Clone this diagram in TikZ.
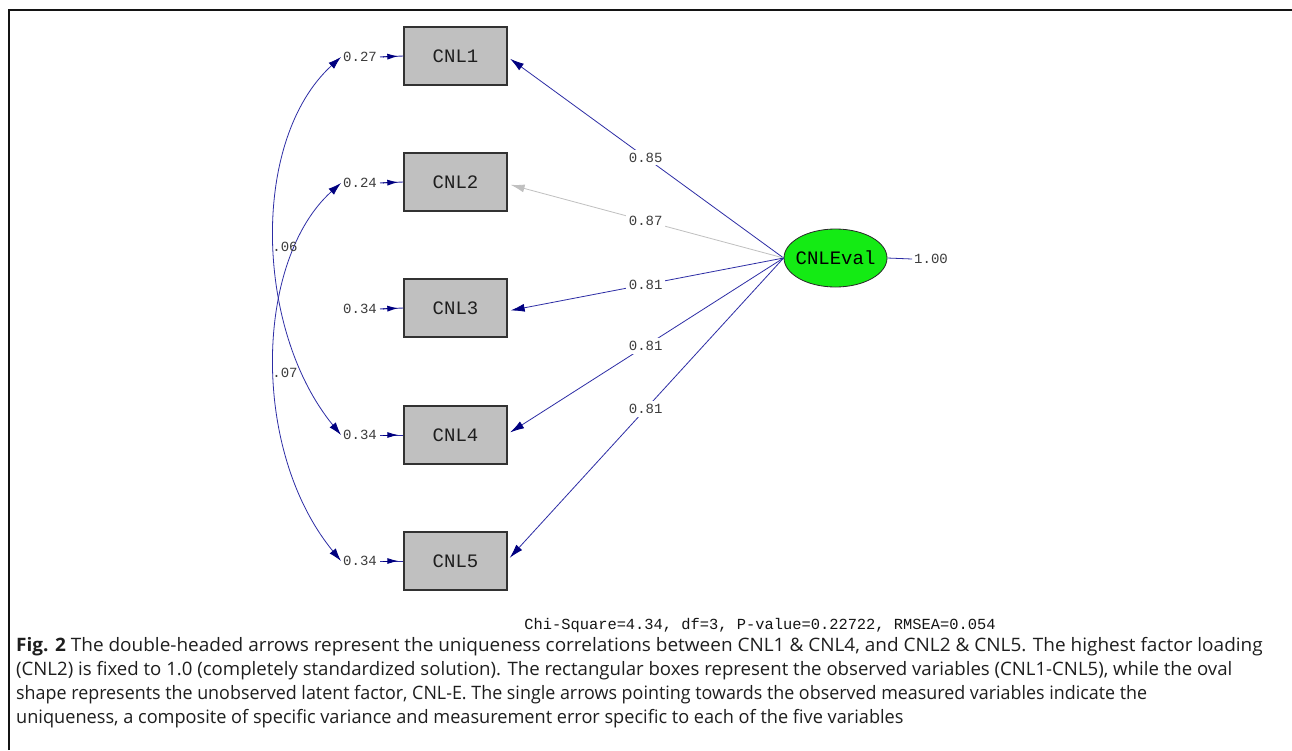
\documentclass[tikz,border=0pt]{standalone}
\usepackage{fontspec}
\setmainfont{Liberation Mono}
\newfontfamily\capfont{Open Sans}
\usetikzlibrary{shapes.geometric,arrows.meta,calc}
\definecolor{navyline}{RGB}{45,45,165}
\definecolor{navytip}{RGB}{0,0,128}
\definecolor{boxgray}{RGB}{192,192,192}
\definecolor{txtgray}{RGB}{60,60,60}
\definecolor{framecol}{RGB}{20,20,20}
\definecolor{boxline}{RGB}{50,50,50}
\definecolor{boxtext}{RGB}{30,30,30}
\definecolor{ellline}{RGB}{40,40,40}
\definecolor{ellfill}{RGB}{20,235,20}
\begin{document}
\begin{tikzpicture}[x=1pt,y=-1pt,
  obsbox/.style={draw=boxline,line width=1.4pt,fill=boxgray,minimum width=103pt,minimum height=58pt,inner sep=0pt,font=\fontsize{19}{22}\selectfont,text=boxtext},
  latent/.style={ellipse,draw=ellline,line width=0.8pt,fill=ellfill,minimum width=103pt,minimum height=58pt,inner sep=0pt},
  lattext/.style={inner sep=0pt,font=\fontsize{19}{22}\selectfont,text=black},
  val/.style={font=\fontsize{14}{16}\selectfont,text=txtgray,inner sep=2pt},
  lab/.style={val,fill=white,inner sep=3pt},
  load/.style={navyline,line width=0.8pt,-{Latex[length=14pt,width=8pt,color=navytip]},shorten >=3pt},
  loadgray/.style={boxgray,line width=0.8pt,-{Latex[length=14pt,width=8pt]},shorten >=3pt},
  errline/.style={navyline,line width=0.9pt,shorten <=1pt},
  errtip/.style={navytip,line width=0.9pt,-{Latex[length=11pt,width=6pt,color=navytip]},shorten <=4pt,shorten >=5pt},
  corr/.style={navyline,line width=0.8pt,{Latex[length=13pt,width=8pt,color=navytip]}-{Latex[length=13pt,width=8pt,color=navytip]}},
  capline/.style={anchor=base west,inner sep=0pt,font=\capfont\fontsize{18.5}{21}\selectfont,text=boxtext}
]
\useasboundingbox (0,0) rectangle (1292,750);
\fill[white] (0,0) rectangle (1292,750);
\draw[line width=2pt,framecol] (9,750) -- (9,10) -- (1292,10);

% observed variables
\node[obsbox] (b1) at (455.5,56) {CNL1};
\node[obsbox] (b2) at (455.5,182) {CNL2};
\node[obsbox] (b3) at (455.5,308) {CNL3};
\node[obsbox] (b4) at (455.5,435) {CNL4};
\node[obsbox] (b5) at (455.5,561) {CNL5};

% latent
\node[latent] (E) at (835.5,258) {};
\node[lattext] (Et) at (E.center) {CNLEval};
\node[val,anchor=west] (ev) at (912,259) {1.00};
\draw[navyline,line width=0.8pt] (E.east) -- (ev.west);

% error variances
\node[val] (e1) at (360,57) {0.27};
\node[val] (e2) at (360,183) {0.24};
\node[val] (e3) at (360,309) {0.34};
\node[val] (e4) at (360,435) {0.34};
\node[val] (e5) at (360,561) {0.34};
\foreach \i in {1,...,5}{
  \draw[errline] (e\i.east) -- (b\i.west);
  \draw[errtip] (e\i.east) -- (b\i.west);
}

% loadings
\draw[load] (E.west) -- node[lab,pos=0.5]{0.85} ($(b1.east)+(0,1)$);
\draw[loadgray] (E.west) -- node[lab,pos=0.5]{0.87} ($(b2.east)+(0,2)$);
\draw[load] (E.west) -- node[lab,pos=0.5]{0.81} ($(b3.east)+(0,3)$);
\draw[load] (E.west) -- node[lab,pos=0.5]{0.81} ($(b4.east)+(0,-1)$);
\draw[load] (E.west) -- node[lab,pos=0.5]{0.81} ($(b5.east)+(0,-1)$);

% correlated uniquenesses
\draw[corr] (e1.west) .. controls (250,140) and (255,330) .. (e4.west);
\draw[corr] (e2.west) .. controls (255,260) and (250,450) .. (e5.west);
\node[val] (c14) at (285,247) {.06};
\node[val] (c25) at (285,373) {.07};

% fit statistics
\node[font=\fontsize{15.4}{18}\selectfont,text=framecol,inner sep=0pt] (fit) at (760,626) {Chi-Square=4.34, df=3, P-value=0.22722, RMSEA=0.054};

% caption
\node[capline] (cap1) at (16,651) {\scalebox{1.026}[1]{\textbf{Fig. 2} The double-headed arrows represent the uniqueness correlations between CNL1 \& CNL4, and CNL2 \& CNL5. The highest factor loading}};
\node[capline] (cap2) at (16,675) {\scalebox{1.006}[1]{(CNL2) is fixed to 1.0 (completely standardized solution). The rectangular boxes represent the observed variables (CNL1-CNL5), while the oval}};
\node[capline] (cap3) at (16,699) {\scalebox{0.967}[1]{shape represents the unobserved latent factor, CNL-E. The single arrows pointing towards the observed measured variables indicate the}};
\node[capline] (cap4) at (16,723) {\scalebox{0.981}[1]{uniqueness, a composite of specific variance and measurement error specific to each of the five variables}};
\end{tikzpicture}
\end{document}
